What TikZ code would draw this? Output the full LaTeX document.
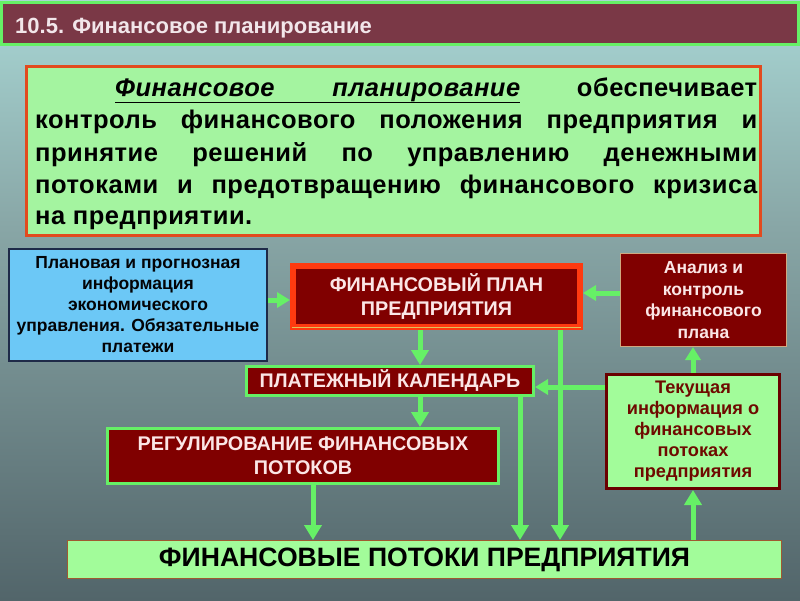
\documentclass[tikz,border=0pt]{standalone}
\usepackage{fontspec}
\setmainfont{Liberation Sans}
\newfontfamily\deffont[LetterSpace=2]{Liberation Sans}
\usetikzlibrary{arrows.meta}
\definecolor{titlebg}{HTML}{7A3846}
\definecolor{titletx}{HTML}{F2E6EA}
\definecolor{lgreen}{HTML}{66F066}
\definecolor{pgreen}{HTML}{A4F4A0}
\definecolor{bgreen}{HTML}{A2FC9A}
\definecolor{redor}{HTML}{E24A1E}
\definecolor{planor}{HTML}{FF3A10}
\definecolor{dred}{HTML}{800000}
\definecolor{pinktx}{HTML}{FBE6E6}
\definecolor{lblue}{HTML}{6CC8F6}
\definecolor{navy}{HTML}{1E2A48}
\definecolor{tan}{HTML}{D0A880}
\definecolor{infobd}{HTML}{6A0000}
\definecolor{infotx}{HTML}{6E0A00}
\definecolor{bottbd}{HTML}{A05A30}
\definecolor{bg0}{HTML}{283131}
\definecolor{bg1}{HTML}{52656A}
\definecolor{bg2}{HTML}{88A6A6}
\definecolor{bg3}{HTML}{A8D6D4}
\definecolor{bg4}{HTML}{BCEDEA}
\pgfdeclareverticalshading{bgshade}{100bp}{color(0bp)=(bg0); color(25bp)=(bg1); color(56bp)=(bg2); color(75bp)=(bg3); color(91bp)=(bg4); color(100bp)=(bg4)}
\tikzset{
  box/.style={rectangle, align=center, inner sep=0pt, font=\bfseries},
  darkbox/.style={box, fill=dred, text=pinktx},
  arr/.style={draw=lgreen, line width=5pt, -{Triangle[width=17pt,length=15pt]}},
  sarr/.style={draw=lgreen, line width=5pt, -{Triangle[width=15pt,length=13pt]}}
}
\begin{document}
\begin{tikzpicture}[x=1pt,y=-1pt]
\useasboundingbox (0,0) rectangle (800,600);
\shade[shading=bgshade] (0,0) rectangle (800,600);
% title
\node[box, fill=titlebg, draw=lgreen, line width=3pt, minimum width=797pt, minimum height=42pt] (title) at (399.5,23) {};
\node[anchor=west, inner sep=0pt, text=titletx, font=\fontsize{22}{26}\selectfont\bfseries] (titletext) at (15,28) {10.5. Финансовое планирование};
% definition box
\node[box, fill=pgreen, draw=redor, line width=3pt, minimum width=734pt, minimum height=169pt] (def) at (393.5,151) {};
\begin{scope}[every node/.style={anchor=base west, inner sep=0pt, font=\deffont\fontsize{25.5}{32}\selectfont\bfseries}]
\node (d1) at (115,96) {\hbox to 642pt{\underline{\hbox to 405pt{\itshape Финансовое\hfill планирование}}\hfill обеспечивает}};
\node (d2) at (35,128) {\hbox to 722pt{контроль\hfill финансового\hfill положения\hfill предприятия\hfill и}};
\node (d3) at (35,161) {\hbox to 722pt{принятие\hfill решений\hfill по\hfill управлению\hfill денежными}};
\node (d4) at (35,193) {\hbox to 722pt{потоками\hfill и\hfill предотвращению\hfill финансового\hfill кризиса}};
\node (d5) at (35,224) {на предприятии.};
\end{scope}
% blue box
\node[box, fill=lblue, draw=navy, line width=1.5pt, minimum width=258pt, minimum height=112pt, text=black!90!navy, font=\fontsize{17.5}{21}\selectfont\bfseries] (info) at (138,305) {Плановая и прогнозная\\информация\\экономического\\управления. Обязательные\\платежи};
% plan box
\node[darkbox, draw=planor, line width=6pt, minimum width=287pt, minimum height=61pt, font=\fontsize{19.8}{23.5}\selectfont\bfseries] (plan) at (436.5,296.5) {ФИНАНСОВЫЙ ПЛАН\\ПРЕДПРИЯТИЯ};
\draw[tan!70!yellow, line width=0.8pt] ([xshift=2pt,yshift=3pt]plan.south west) -- ([xshift=-2pt,yshift=3pt]plan.south east);
% analysis box
\node[darkbox, draw=tan, line width=1pt, minimum width=166pt, minimum height=93pt, font=\fontsize{17.5}{21.5}\selectfont\bfseries] (anal) at (703.5,300) {Анализ и\\контроль\\финансового\\плана};
% calendar
\node[darkbox, draw=lgreen, line width=3pt, minimum width=287pt, minimum height=29pt, font=\fontsize{19.7}{22}\selectfont\bfseries] (cal) at (390,381) {ПЛАТЕЖНЫЙ КАЛЕНДАРЬ};
% regulation
\node[darkbox, draw=lgreen, line width=3pt, minimum width=391pt, minimum height=55pt, font=\fontsize{19.8}{24}\selectfont\bfseries] (reg) at (303,456) {РЕГУЛИРОВАНИЕ ФИНАНСОВЫХ\\ПОТОКОВ};
% current info
\node[box, fill=bgreen, draw=infobd, line width=3pt, minimum width=173pt, minimum height=114pt, text=infotx, font=\fontsize{18.2}{21}\selectfont\bfseries] (cur) at (693,431.5) {Текущая\\информация о\\финансовых\\потоках\\предприятия};
% bottom box
\node[box, fill=bgreen, draw=bottbd, line width=1pt, minimum width=714pt, minimum height=38pt, text=black, font=\fontsize{26.6}{30}\selectfont\bfseries] (flows) at (424.5,559.5) {ФИНАНСОВЫЕ ПОТОКИ ПРЕДПРИЯТИЯ};
% connectors
\draw[sarr] (info.east |- 0,300) -- (plan.west |- 0,300);
\draw[sarr] (anal.west |- 0,293) -- (plan.east |- 0,293);
\draw[arr] (plan.south -| 420,0) -- (cal.north -| 420,0);
\draw[arr] (plan.south -| 560,0) -- (flows.north -| 560,0);
\draw[sarr] (cur.west |- 0,387) -- (cal.east |- 0,387);
\draw[arr] (cal.south -| 420,0) -- (reg.north -| 420,0);
\draw[arr] (cal.south -| 520,0) -- (flows.north -| 520,0);
\draw[arr] (reg.south -| 313,0) -- (flows.north -| 313,0);
\draw[sarr] (cur.north -| 693,0) -- (anal.south -| 693,0);
\draw[arr] (flows.north -| 693,0) -- (cur.south -| 693,0);
\end{tikzpicture}
\end{document}
